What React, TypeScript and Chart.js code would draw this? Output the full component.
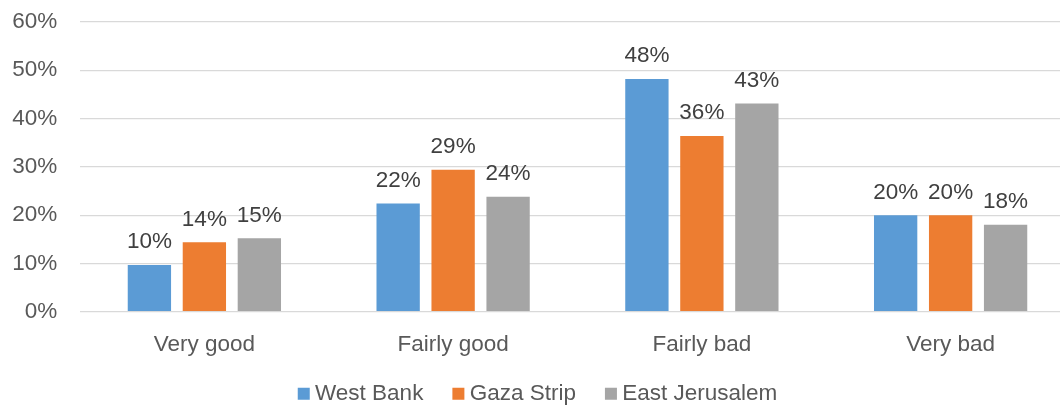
import React, { useEffect, useRef } from "react";
import { Chart, registerables } from "chart.js";

Chart.register(...registerables);

const categories = ["Very good", "Fairly good", "Fairly bad", "Very bad"];
const westBank = [9.7, 22.4, 48.2, 20.0];
const gazaStrip = [14.4, 29.4, 36.4, 20.0];
const eastJerusalem = [15.2, 23.8, 43.1, 18.0];
const seriesNames = ["West Bank", "Gaza Strip", "East Jerusalem"];
const seriesColors = ["#5B9BD5", "#ED7D31", "#A5A5A5"];
const yTicks = [0, 10, 20, 30, 40, 50, 60];

const FONT = "'Liberation Sans', Arial, sans-serif";
const FS = 22.5;

const dataLabels = {
  id: "dataLabels",
  afterDatasetsDraw(chart: any) {
    const ctx = chart.ctx;
    ctx.save();
    ctx.font = `${FS}px ${FONT}`;
    ctx.fillStyle = "#404040";
    ctx.textAlign = "center";
    ctx.textBaseline = "alphabetic";
    chart.data.datasets.forEach((ds: any, i: number) => {
      const meta = chart.getDatasetMeta(i);
      meta.data.forEach((bar: any, j: number) => {
        const v = ds.data[j];
        ctx.fillText(Math.round(v) + "%", bar.x, bar.y - 16.5);
      });
    });
    ctx.restore();
  },
};

export default function App() {
  const ref = useRef<HTMLCanvasElement | null>(null);
  useEffect(() => {
    if (!ref.current) return;
    const chart = new Chart(ref.current, {
      type: "bar",
      data: {
        labels: categories,
        datasets: [westBank, gazaStrip, eastJerusalem].map((d, i) => ({
          label: seriesNames[i],
          data: d,
          backgroundColor: seriesColors[i],
          borderWidth: 0,
          categoryPercentage: 0.663,
          barPercentage: 0.788,
        })),
      },
      options: {
        responsive: false,
        animation: false,
        devicePixelRatio: 1,
        layout: { padding: { top: 22, left: 6, right: 0, bottom: 0 } },
        plugins: {
          tooltip: { enabled: false },
          legend: {
            position: "bottom",
            labels: {
              usePointStyle: true,
              pointStyle: "rect",
              boxWidth: 0.01,
              boxHeight: 12,
              padding: 35,
              color: "#595959",
              font: { family: FONT, size: FS },
            },
          },
        },
        scales: {
          x: {
            grid: { display: false, drawTicks: false },
            border: { display: false },
            ticks: {
              color: "#595959",
              font: { family: FONT, size: FS },
              padding: 20,
            },
            afterFit(scale: any) {
              scale.height = 35.75;
              scale._computeLabelArea = () => undefined;
            },
          },
          y: {
            min: 0,
            max: 60,
            afterBuildTicks(scale: any) {
              scale.ticks = yTicks.map((v) => ({ value: v }));
            },
            grid: { color: "#D9D9D9", lineWidth: 1.3, drawTicks: false },
            border: { display: false },
            ticks: {
              color: "#595959",
              font: { family: FONT, size: FS },
              padding: 22.7,
              callback: (v: any) => v + "%",
            },
            afterFit(scale: any) {
              scale.width = 74;
              scale.paddingTop = 0;
              scale.paddingBottom = 0;
            },
          },
        },
      },
      plugins: [dataLabels],
    });
    return () => chart.destroy();
  }, []);

  return (
    <div
      style={{
        position: "fixed",
        left: 0,
        top: 0,
        width: 1060,
        height: 406,
        overflow: "hidden",
        background: "#fff",
      }}
    >
      <canvas
        ref={ref}
        width={1075}
        height={415}
        style={{ width: 1075, height: 415, display: "block" }}
      />
    </div>
  );
}
